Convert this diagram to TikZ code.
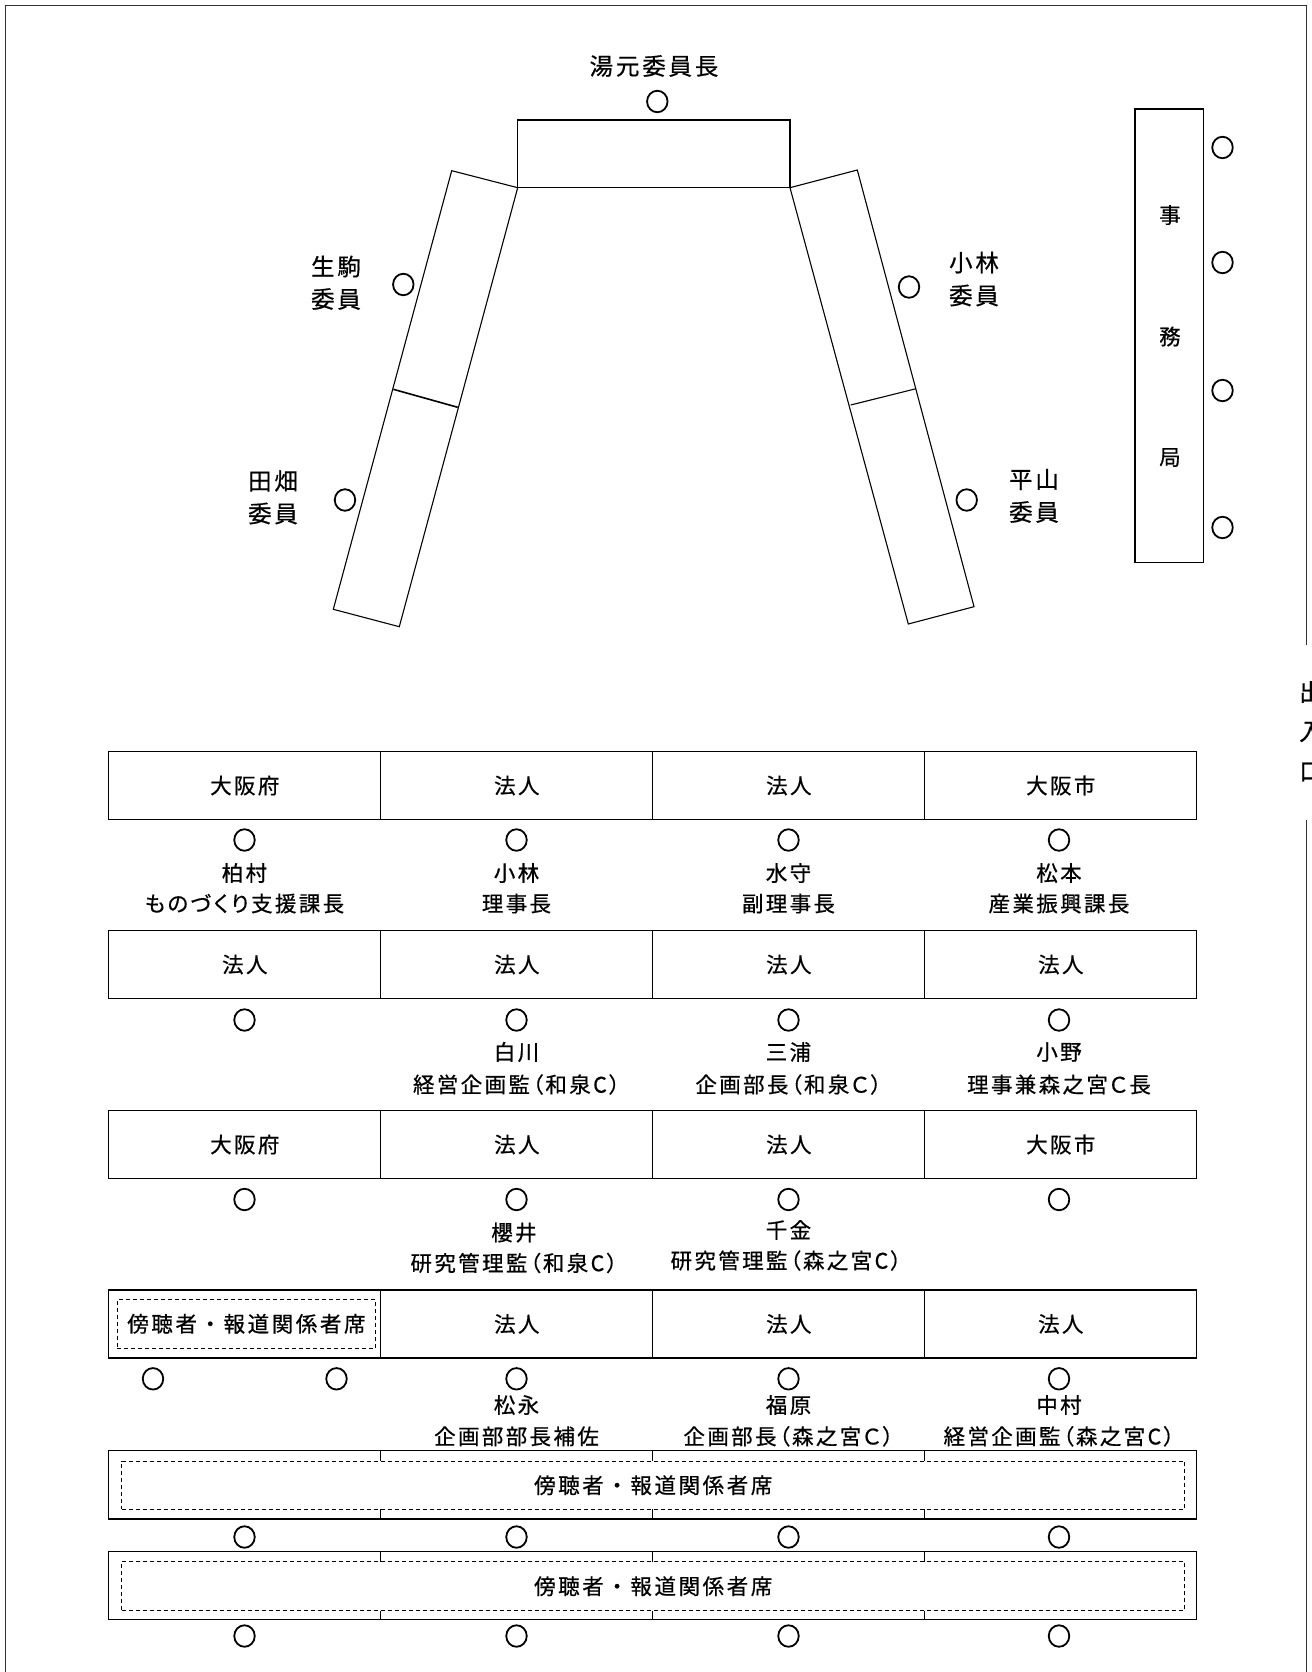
\documentclass[tikz,border=0pt]{standalone}
\usepackage{fontspec}
\setmainfont{Noto Sans CJK JP}
\newfontfamily\lblfont{Noto Sans CJK JP}[LetterSpace=11,RawFeature={+palt},FakeBold=0.6]
\newfontfamily\bigfont{Noto Sans CJK JP}[LetterSpace=12,RawFeature={+palt},FakeBold=0.6]
\newfontfamily\fixfont{Noto Sans CJK JP}[LetterSpace=12,FakeBold=0.6]
\usetikzlibrary{shapes.geometric}
\begin{document}
\begin{tikzpicture}[x=1pt,y=-1pt]
\tikzset{
  frameline/.style={draw=black!80, line width=1.3pt},
  furn/.style={draw, line width=1.1pt},
  cell/.style={draw, line width=1.2pt, minimum width=272pt, minimum height=68pt, inner sep=0pt, font=\lblfont\fontsize{21.5}{25}\selectfont},
  dbox/.style={draw, dash pattern=on 4pt off 3pt, line width=0.9pt, inner sep=0pt, font=\fixfont\fontsize{21.5}{25}\selectfont},
  seat/.style={draw, ellipse, line width=1.8pt, minimum width=20.5pt, minimum height=21.5pt, inner sep=0pt},
  lbl/.style={inner sep=0pt, font=\lblfont\fontsize{21.5}{25}\selectfont},
  big/.style={inner sep=0pt, font=\bigfont\fontsize{23.5}{27}\selectfont},
  tick/.style={draw, line width=1.2pt}
}
\useasboundingbox (0,0) rectangle (1311,1672);
% frame
\draw[frameline] (5.3,1690) -- (5.3,5.3) -- (1306.7,5.3) -- (1306.7,645);
\draw[frameline] (1306.7,820) -- (1306.7,1690);
\node[big] (door1) at (1311,692) {出};
\node[big] (door2) at (1311,732) {入};
\node[big] (door3) at (1311,772) {口};

% committee tables
\draw[furn] (517.7,120) rectangle (790,187.7);
\draw[furn] (451.7,170.7) -- (517.7,187.7) -- (399.3,626.7) -- (333.3,609.3) -- cycle;
\draw[furn, line width=1.6pt] (393.3,389.3) -- (457.7,407.3);
\draw[furn] (790,187.7) -- (857.3,170) -- (974,606.7) -- (908.3,624) -- cycle;
\draw[furn] (850.7,405) -- (916,388.7);

\node[big] (chair) at (654,66) {湯元委員長};
\node[seat] (s0) at (657.3,101.5) {};
\node[big] (ikoma1) at (336,266.5) {生駒};
\node[big] (ikoma2) at (336,299) {委員};
\node[seat] (s1) at (403.3,284.5) {};
\node[big] (tabata1) at (273,481) {田畑};
\node[big] (tabata2) at (273,513.5) {委員};
\node[seat] (s2) at (345,500) {};
\node[big] (koba1) at (974,262.5) {小林};
\node[big] (koba2) at (974,295.5) {委員};
\node[seat] (s3) at (909,287) {};
\node[big] (hira1) at (1034,479.5) {平山};
\node[big] (hira2) at (1034,512) {委員};
\node[seat] (s4) at (966.7,500) {};

% secretariat
\draw[furn] (1135,109) rectangle (1203.3,562.5);
\node[lbl] (j1) at (1170,215) {事};
\node[lbl] (j2) at (1170,336.5) {務};
\node[lbl] (j3) at (1170,457.5) {局};
\node[seat] (js1) at (1222.5,147.5) {};
\node[seat] (js2) at (1222.5,262.5) {};
\node[seat] (js3) at (1222.5,390.5) {};
\node[seat] (js4) at (1222.5,527.5) {};

% row 1
\node[cell] (r1c1) at (244.8,785.5) {大阪府};
\node[cell] (r1c2) at (516.8,785.5) {法人};
\node[cell] (r1c3) at (788.8,785.5) {法人};
\node[cell] (r1c4) at (1060.8,785.5) {大阪市};
\node[seat] (p11) at (244.5,840) {};
\node[seat] (p12) at (516.5,840) {};
\node[seat] (p13) at (788.5,840) {};
\node[seat] (p14) at (1059,840) {};
\node[lbl] (n11) at (244.5,873) {柏村};
\node[lbl] (t11) at (244.5,903.5) {ものづくり支援課長};
\node[lbl] (n12) at (516.5,873) {小林};
\node[lbl] (t12) at (516.5,903.5) {理事長};
\node[lbl] (n13) at (788.5,873) {水守};
\node[lbl] (t13) at (788.5,903.5) {副理事長};
\node[lbl] (n14) at (1059,873) {松本};
\node[lbl] (t14) at (1059,903.5) {産業振興課長};

% row 2
\node[cell] (r2c1) at (244.8,964.5) {法人};
\node[cell] (r2c2) at (516.8,964.5) {法人};
\node[cell] (r2c3) at (788.8,964.5) {法人};
\node[cell] (r2c4) at (1060.8,964.5) {法人};
\node[seat] (p21) at (244.5,1020) {};
\node[seat] (p22) at (516.5,1020) {};
\node[seat] (p23) at (788.5,1020) {};
\node[seat] (p24) at (1059,1020) {};
\node[lbl] (n22) at (516.5,1052) {白川};
\node[lbl] (t22) at (516.5,1084.5) {経営企画監（和泉C）};
\node[lbl] (n23) at (788.5,1052) {三浦};
\node[lbl] (t23) at (788.5,1084.5) {企画部長（和泉Ｃ）};
\node[lbl] (n24) at (1059,1052) {小野};
\node[lbl] (t24) at (1059,1084.5) {理事兼森之宮Ｃ長};

% row 3
\node[cell] (r3c1) at (244.8,1144.5) {大阪府};
\node[cell] (r3c2) at (516.8,1144.5) {法人};
\node[cell] (r3c3) at (788.8,1144.5) {法人};
\node[cell] (r3c4) at (1060.8,1144.5) {大阪市};
\node[seat] (p31) at (244.5,1199.5) {};
\node[seat] (p32) at (516.5,1199.5) {};
\node[seat] (p33) at (788.5,1199.5) {};
\node[seat] (p34) at (1059,1199.5) {};
\node[lbl] (n32) at (514,1232.5) {櫻井};
\node[lbl] (t32) at (514,1263) {研究管理監（和泉C）};
\node[lbl] (n33) at (788.5,1230) {千金};
\node[lbl] (t33) at (786,1260.5) {研究管理監（森之宮C）};

% row 4
\node[cell] (r4c1) at (244.8,1324) {};
\node[dbox, minimum width=258.3pt, minimum height=49pt] (r4d) at (246.4,1323.8) {傍聴者・報道関係者席};
\node[cell] (r4c2) at (516.8,1324) {法人};
\node[cell] (r4c3) at (788.8,1324) {法人};
\node[cell] (r4c4) at (1060.8,1324) {法人};
\node[seat] (p40) at (153,1378.8) {};
\node[seat] (p41) at (336.5,1378.8) {};
\node[seat] (p42) at (516.5,1378.8) {};
\node[seat] (p43) at (788.5,1378.8) {};
\node[seat] (p44) at (1059,1378.8) {};
\node[lbl] (n42) at (516.5,1405) {松永};
\node[lbl] (t42) at (516.5,1436.3) {企画部部長補佐};
\node[lbl] (n43) at (788.5,1405) {福原};
\node[lbl] (t43) at (788.5,1436.3) {企画部長（森之宮Ｃ）};
\node[lbl] (n44) at (1059,1405) {中村};
\node[lbl] (t44) at (1059,1436.3) {経営企画監（森之宮C）};

% row 5
\node[draw, line width=1.2pt, minimum width=1088pt, minimum height=68.2pt, inner sep=0pt] (r5) at (652.8,1484.8) {};
\foreach \x in {380.8,652.8,924.8} {
  \draw[tick] (\x,1450.7) -- (\x,1461);
  \draw[tick] (\x,1509.3) -- (\x,1518.9);
}
\node[dbox, minimum width=1062.7pt, minimum height=48.3pt] (r5d) at (653.2,1485.2) {傍聴者・報道関係者席};
\node[seat] (p51) at (244.5,1537) {};
\node[seat] (p52) at (516.5,1537) {};
\node[seat] (p53) at (788.5,1537) {};
\node[seat] (p54) at (1059,1537) {};

% row 6
\node[draw, line width=1.2pt, minimum width=1088pt, minimum height=68pt, inner sep=0pt] (r6) at (652.8,1585.5) {};
\foreach \x in {380.8,652.8,924.8} {
  \draw[tick] (\x,1551.5) -- (\x,1561.7);
  \draw[tick] (\x,1610.7) -- (\x,1619.5);
}
\node[dbox, minimum width=1062.7pt, minimum height=49pt] (r6d) at (653.2,1586.2) {傍聴者・報道関係者席};
\node[seat] (p61) at (244.5,1636) {};
\node[seat] (p62) at (516.5,1636) {};
\node[seat] (p63) at (788.5,1636) {};
\node[seat] (p64) at (1059,1636) {};
\end{tikzpicture}
\end{document}
